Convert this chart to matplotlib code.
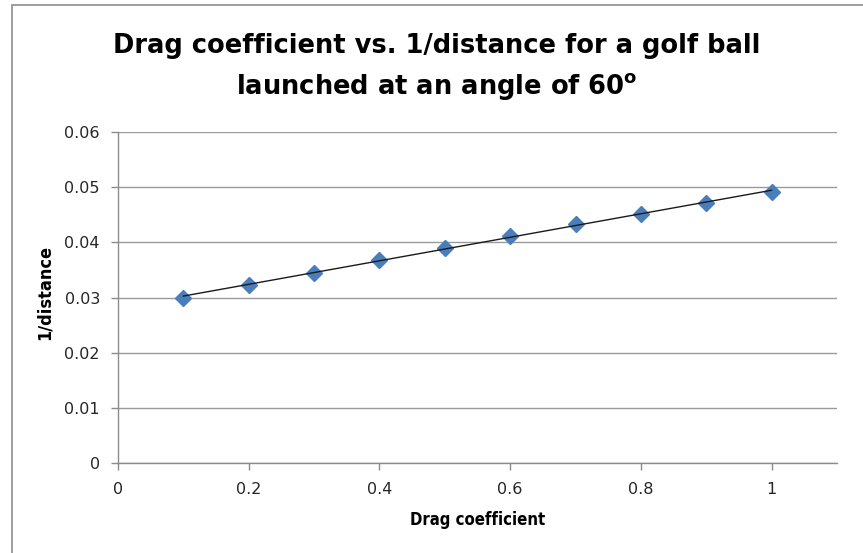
import matplotlib
matplotlib.use("Agg")
import matplotlib.pyplot as plt
from matplotlib.patches import Rectangle
import numpy as np

# Measured drag coefficient and the reciprocal of the travelled distance
drag_coeff = [0.1, 0.2, 0.3, 0.4, 0.5, 0.6, 0.7, 0.8, 0.9, 1.0]
inv_distance = [0.0300, 0.0323, 0.0345, 0.0368, 0.0389,
                0.0412, 0.0433, 0.0452, 0.0471, 0.0492]

x_ticks = [0, 0.2, 0.4, 0.6, 0.8, 1.0]
x_tick_labels = ["0", "0.2", "0.4", "0.6", "0.8", "1"]
y_ticks = [0, 0.01, 0.02, 0.03, 0.04, 0.05, 0.06]
y_tick_labels = ["0", "0.01", "0.02", "0.03", "0.04", "0.05", "0.06"]

plt.rcParams["font.family"] = ["DejaVu Sans"]

fig = plt.figure(figsize=(8.63, 5.53), dpi=100)

# chart area border (left and top edges visible)
fig.patches.append(Rectangle((12 / 863, -0.1), 1.2, 1 - 5 / 553 + 0.1,
                             transform=fig.transFigure, fill=False,
                             edgecolor="#8c8c8c", linewidth=1.2))

ax = fig.add_axes([118 / 863, 1 - 463 / 553, (837 - 118) / 863, (463 - 132) / 553])

ax.plot(drag_coeff, inv_distance, linestyle="none", marker="D", markersize=8.5,
        color="#4a7ebb", zorder=3)

# linear trendline through the data range
slope, intercept = np.polyfit(drag_coeff, inv_distance, 1)
tx = np.array([drag_coeff[0], drag_coeff[-1]])
ax.plot(tx, slope * tx + intercept, color="#1a1a1a", linewidth=1.0, zorder=4)

ax.set_xlim(0, 1.1)
ax.set_ylim(0, 0.06)
ax.set_xticks(x_ticks)
ax.set_xticklabels(x_tick_labels)
ax.set_yticks(y_ticks)
ax.set_yticklabels(y_tick_labels)
ax.tick_params(axis="both", direction="out", length=5, width=1,
               color="#8c8c8c", labelsize=11.5, labelcolor="#262626")
ax.tick_params(axis="x", pad=9)
ax.tick_params(axis="y", pad=8)

ax.grid(axis="y", color="#9a9a9a", linewidth=1)
ax.set_axisbelow(True)
for side in ("top", "right"):
    ax.spines[side].set_visible(False)
for side in ("left", "bottom"):
    ax.spines[side].set_color("#8c8c8c")
    ax.spines[side].set_linewidth(1)

ax.set_xlabel("Drag coefficient", fontsize=12, fontweight="bold",
              fontstretch="condensed", labelpad=10)
ax.set_ylabel("1/distance", fontsize=13, fontweight="bold",
              fontstretch="condensed", labelpad=8)
ax.yaxis.label.set_y(0.515)

title_x = 437 / 863
fig.text(title_x, 1 - 53 / 553, "Drag coefficient vs. 1/distance for a golf ball",
         ha="center", va="baseline", fontsize=18.5, fontweight="bold")
fig.text(title_x, 1 - 94 / 553, r"launched at an angle of 60$^{\mathregular{o}}$",
         ha="center", va="baseline", fontsize=18.5, fontweight="bold")

fig.savefig("out.png", dpi=100, facecolor="white")
